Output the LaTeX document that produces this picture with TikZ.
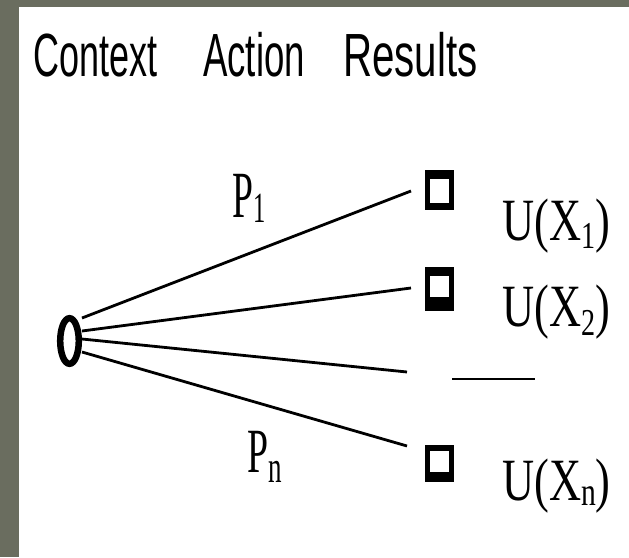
\documentclass[tikz,border=0pt]{standalone}
\usepackage{fontspec}
\setmainfont{Liberation Serif}
\newfontfamily\headfont{Liberation Sans}
\definecolor{frame}{HTML}{6A6D5F}
\tikzset{
  head/.style={anchor=base west, inner sep=0pt, font=\headfont\fontsize{61}{61}\selectfont},
  lab/.style={anchor=base west, inner sep=0pt},
  branch/.style={line width=2.8pt, line cap=butt},
  rbox/.style={draw=black, fill=white, line width=5pt, minimum width=24pt, inner sep=0pt},
}
% label with a lowered subscript, squeezed horizontally
\newcommand{\sublab}[6]{\scalebox{#1}[1]{\fontsize{#2}{#2}\selectfont #3\raisebox{-#4pt}{\fontsize{#5}{#5}\selectfont #6}}}
\newcommand{\ulab}[3]{\scalebox{0.74}[1]{\fontsize{60}{60}\selectfont U(X\raisebox{-#1pt}{\fontsize{#2}{#2}\selectfont #3})}}
\begin{document}
\begin{tikzpicture}[x=1pt,y=-1pt]
  % frame and page
  \fill[frame] (0,0) rectangle (629,557);
  \fill[white] (19,7) rectangle (629,557);
  \useasboundingbox (0,0) rectangle (629,557);

  % column headings
  \node[head] (hctx) at (33,76) {\scalebox{0.59}[1]{Context}};
  \node[head] (hact) at (203,76) {\scalebox{0.60}[1]{Action}};
  \node[head] (hres) at (343,76) {\scalebox{0.66}[1]{Results}};

  % decision point
  \node[inner sep=0pt, minimum width=25pt, minimum height=52pt] (o) at (69.5,341) {};
  \draw[line width=6.5pt] (o.center) ellipse [x radius=9.3, y radius=22.8];

  % result boxes
  \node[rbox, minimum height=35pt] (r1) at (439.5,190) {};
  \node[rbox, minimum height=39pt] (r2) at (439.5,289) {};
  \node[rbox, minimum height=32pt] (rn) at (439.5,463.5) {};
  \fill (425,170) rectangle (454,179);
  \fill (425,203) rectangle (454,210);
  \fill (425,267) rectangle (454,276);
  \fill (425,297) rectangle (454,311);
  \fill (425,445) rectangle (454,451);
  \fill (425,472) rectangle (454,482);

  % branch ends
  \coordinate (s1) at (82,318);
  \coordinate (s2) at (82,331);
  \coordinate (s3) at (82,339);
  \coordinate (s4) at (82,352);
  \coordinate (e1) at (411,191);
  \coordinate (e2) at (411,288);
  \coordinate (e3) at (407,372);
  \coordinate (e4) at (407,446);
  \coordinate (d1) at (452,379);
  \coordinate (d2) at (535,379);

  \draw[branch] (s1) -- (e1);
  \draw[branch] (s2) -- (e2);
  \draw[branch] (s3) -- (e3);
  \draw[branch] (s4) -- (e4);
  \draw[line width=2.8pt] (d1) -- (d2);

  % probabilities
  \node[lab] (p1) at (232,217) {\sublab{0.57}{66}{P}{5}{43}{1}};
  \node[lab] (pn) at (247,472) {\sublab{0.6}{63}{P}{10}{45}{n}};

  % utilities
  \node[lab] (u1) at (502,240) {\ulab{8}{38}{1}};
  \node[lab] (u2) at (502,326) {\ulab{9}{38}{2}};
  \node[lab] (un) at (502,500) {\ulab{5}{40}{n}};
\end{tikzpicture}
\end{document}
